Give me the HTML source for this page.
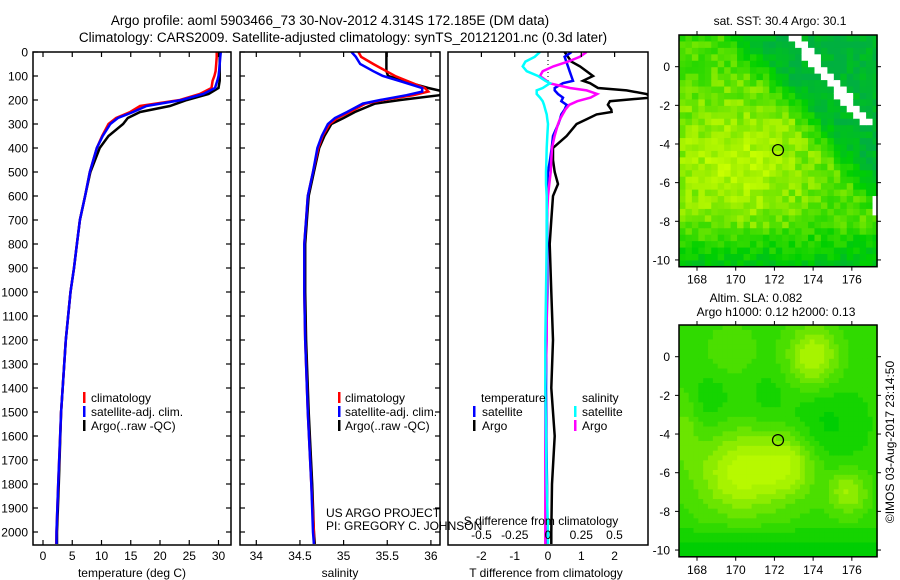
<!DOCTYPE html>
<html><head><meta charset="utf-8"><style>
html,body{margin:0;padding:0;background:#fff;}
svg{display:block;font-family:"Liberation Sans",sans-serif;}
</style></head><body>
<svg id="fig" width="900" height="580" viewBox="0 0 900 580" xmlns="http://www.w3.org/2000/svg">
<text x="330" y="25" font-size="13.5" text-anchor="middle">Argo profile: aoml 5903466_73 30-Nov-2012 4.314S 172.185E (DM data)</text>
<text x="343" y="42" font-size="13.5" text-anchor="middle">Climatology: CARS2009. Satellite-adjusted climatology: synTS_20121201.nc (0.3d later)</text>
<g id="p1"></g>
<g id="p2"></g>
<g id="p3"></g>
<g id="m1"></g>
<g id="m2"></g>
<text x="780" y="25" font-size="12" text-anchor="middle">sat. SST: 30.4  Argo: 30.1</text>
<text x="756" y="302" font-size="12" text-anchor="middle">Altim. SLA: 0.082</text>
<text x="776" y="316" font-size="12" text-anchor="middle">Argo h1000: 0.12 h2000: 0.13</text>
<text transform="translate(894,442) rotate(-90)" font-size="12" text-anchor="middle">©IMOS 03-Aug-2017 23:14:50</text>
<text x="326" y="517" font-size="12">US ARGO PROJECT</text>
<text x="326" y="530" font-size="12">PI: GREGORY C. JOHNSON</text>
</svg>
<script>
// ---- data ----
const depthTS = [0,20,50,80,100,120,150,175,200,225,250,275,300,350,400,500,600,700,800,900,1000,1200,1500,1800,2000,2050];
const tempClim = [29.7,29.7,29.6,29.5,29.3,29.0,28.8,26.8,23.4,16.6,14.9,12.5,11.2,10.1,9.2,8.0,7.2,6.3,5.8,5.3,4.7,3.9,3.1,2.6,2.3,2.25];
const tempSat = [30.4,30.3,30.2,30.1,30.0,29.8,29.4,27.4,23.7,17.7,15.4,12.8,11.5,10.2,9.2,8.0,7.2,6.3,5.8,5.3,4.7,3.9,3.1,2.6,2.3,2.3];
const tempArgo = [30.2,30.2,30.2,30.2,30.2,30.2,30.0,28.3,24.6,21.7,16.6,14.5,13.7,11.2,9.7,8.1,7.2,6.3,5.8,5.3,4.7,3.9,3.1,2.7,2.4,2.4];
const depthS = [0,20,50,80,100,125,150,165,180,200,215,250,275,300,350,400,500,600,700,800,1000,1200,1500,1800,2000,2050];
const salClim = [35.17,35.2,35.34,35.49,35.59,35.76,35.93,35.97,35.8,35.45,35.25,35.07,34.93,34.84,34.76,34.71,34.65,34.59,34.57,34.55,34.55,34.56,34.59,34.63,34.66,34.66];
const salSat = [35.09,35.14,35.19,35.34,35.45,35.68,35.9,35.9,35.72,35.42,35.22,35.04,34.9,34.82,34.75,34.70,34.65,34.59,34.57,34.55,34.55,34.56,34.59,34.63,34.65,34.66];
const salArgo = [35.49,35.49,35.49,35.49,35.51,35.72,35.97,36.15,36.1,35.65,35.36,35.13,35.0,34.86,34.78,34.72,34.66,34.6,34.58,34.56,34.56,34.57,34.6,34.64,34.66,34.67];
const depthD = [0,20,40,60,80,100,120,130,150,160,175,190,205,220,240,250,260,280,300,350,400,450,500,550,600,700,800,1000,1200,1400,1600,1800,2000,2050];
const dTSat = [0.71,0.5,0.55,0.6,0.65,0.7,0.75,0.45,0.2,0.2,0.3,0.45,0.4,0.56,0.5,0.45,0.4,0.36,0.31,0.15,0.11,0.06,0,-0.02,-0.02,-0.03,-0.02,-0.02,-0.05,-0.06,-0.05,-0.03,-0.02,-0.02];
const dTArgo = [0.5,0.6,0.7,0.96,1.16,1.35,1.05,1.26,1.5,2.36,2.96,3.1,1.86,1.8,1.9,1.91,1.46,1.16,0.86,0.56,0.15,0.15,0.2,0.3,0.15,0.1,0.05,0.1,0.15,0.1,0.2,0.12,0.1,0.1];
const dSArgo = [0.29,0.24,0.15,0.04,-0.04,-0.06,-0.01,0.01,0.165,0.29,0.37,0.32,0.22,0.16,0.13,0.12,0.11,0.09,0.075,0.05,0.03,0.025,0.02,0.01,0,-0.01,-0.01,-0.01,-0.01,-0.02,-0.02,-0.02,-0.02,-0.02];
const dSSat = [-0.06,-0.1,-0.17,-0.19,-0.16,-0.075,-0.02,0.015,-0.04,-0.085,-0.085,-0.06,-0.04,-0.03,-0.02,-0.015,-0.01,-0.005,0,-0.005,-0.01,-0.012,-0.015,-0.015,-0.01,-0.01,-0.01,-0.015,-0.02,-0.02,-0.015,-0.01,0,0];
const depthTicks = [0,100,200,300,400,500,600,700,800,900,1000,1100,1200,1300,1400,1500,1600,1700,1800,1900,2000];
const tempTicks = [0,5,10,15,20,25,30];
const salTicks = [34,34.5,35,35.5,36];
const dTTicks = [-2,-1,0,1,2];
const dSTicks = [-0.5,-0.25,0,0.25,0.5];
const dSTickLabels = ["-0.5","-0.25","0","0.25","0.5"];
const lonTicks = [168,170,172,174,176];
const latTicks = [0,-2,-4,-6,-8,-10];
const floatLon = 172.185, floatLat = -4.314;

// ---- helpers ----
const NS="http://www.w3.org/2000/svg";
function mk(parent,tag,attrs){const e=document.createElementNS(NS,tag);for(const k in attrs)e.setAttribute(k,attrs[k]);parent.appendChild(e);return e;}
const yD = d => 52 + d*0.24;
const PTOP=52-0.0, PBOT=545;
const xT = t => 43 + t*5.85;
const xS = s => 256.3 + (s-34)*87.3;
const xDT = v => 548 + v*33.3;
const xDS = v => 548 + v*133;

function frame(g,x0,x1,y0,y1,name){
  const r=mk(g,'rect',{x:x0,y:y0,width:x1-x0,height:y1-y0,fill:'none',stroke:'#000','stroke-width':1.5});
  
  
}
function clipFor(id,x0,x1,y0,y1){
  const c=mk(document.getElementById('fig'),'clipPath',{id:id});
  mk(c,'rect',{x:x0,y:y0,width:x1-x0,height:y1-y0});
}
function line(g,xs,ds,xf,color,name,clip,w){
  const pts=xs.map((v,i)=>xf(v).toFixed(1)+','+yD(ds[i]).toFixed(1)).join(' ');
  const p=mk(g,'polyline',{points:pts,fill:'none',stroke:color,'stroke-width':w||2.5,'clip-path':'url(#'+clip+')'});
  
  
}
function depthAxis(g,x0,x1,labels){
  depthTicks.forEach(d=>{
    const y=yD(d);
    mk(g,'line',{x1:x0,y1:y,x2:x0+5,y2:y,stroke:'#000','stroke-width':1.2});
    mk(g,'line',{x1:x1,y1:y,x2:x1-5,y2:y,stroke:'#000','stroke-width':1.2});
    if(labels){const t=mk(g,'text',{x:x0-5,y:y+4.5,'font-size':12,'text-anchor':'end'});t.textContent=d;
      
      }
  });
}
function xAxis(g,ticks,xf,labels,ylab){
  ticks.forEach((v,i)=>{
    const x=xf(v);
    mk(g,'line',{x1:x,y1:PTOP,x2:x,y2:PTOP+5,stroke:'#000','stroke-width':1.2});
    mk(g,'line',{x1:x,y1:PBOT,x2:x,y2:PBOT-5,stroke:'#000','stroke-width':1.2});
    const t=mk(g,'text',{x:x,y:ylab,'font-size':12,'text-anchor':'middle'});t.textContent=labels?labels[i]:v;
    
    
  });
}
function label(g,x,y,txt,name,anchor){
  const t=mk(g,'text',{x:x,y:y,'font-size':12,'text-anchor':anchor||'start'});t.textContent=txt;
  
  
}
function legendBar(g,x,y,color){
  const r=mk(g,'rect',{x:x,y:y-10,width:2.5,height:11,fill:color});
  
  
}

// ---- panel 1 ----
const g1=document.getElementById('p1');
clipFor('c1',33,231,PTOP,PBOT);
line(g1,tempArgo,depthTS,xT,'#000','temp-argo-line','c1');
line(g1,tempClim,depthTS,xT,'#f00','temp-clim-line','c1');
line(g1,tempSat,depthTS,xT,'#00f','temp-sat-line','c1');
frame(g1,33,231,PTOP,PBOT,'temperature-frame');
depthAxis(g1,33,231,true);
xAxis(g1,tempTicks,xT,null,560);
label(g1,132,577,'temperature (deg C)','temperature-axis-title','middle');
legendBar(g1,83,402,'#f00');label(g1,91,402,'climatology','legend-climatology');
legendBar(g1,83,416,'#00f');label(g1,91,416,'satellite-adj. clim.','legend-satellite');
legendBar(g1,83,430,'#000');label(g1,91,430,'Argo(..raw -QC)','legend-argo');

// ---- panel 2 ----
const g2=document.getElementById('p2');
clipFor('c2',240,440,PTOP,PBOT);
line(g2,salArgo,depthS,xS,'#000','sal-argo-line','c2');
line(g2,salClim,depthS,xS,'#f00','sal-clim-line','c2');
line(g2,salSat,depthS,xS,'#00f','sal-sat-line','c2');
frame(g2,240,440,PTOP,PBOT,'salinity-frame');
depthAxis(g2,240,440,false);
xAxis(g2,salTicks,xS,null,560);
label(g2,340,577,'salinity','salinity-axis-title','middle');
legendBar(g2,338,402,'#f00');label(g2,345,402,'climatology','legend-climatology');
legendBar(g2,338,416,'#00f');label(g2,345,416,'satellite-adj. clim.','legend-satellite');
legendBar(g2,338,430,'#000');label(g2,345,430,'Argo(..raw -QC)','legend-argo');

// ---- panel 3 ----
const g3=document.getElementById('p3');
clipFor('c3',448,648,PTOP,PBOT);
mk(g3,'line',{x1:548,y1:PTOP,x2:548,y2:85,stroke:'#000','stroke-width':1,'stroke-dasharray':'1,3'});
line(g3,dTArgo,depthD,xDT,'#000','dT-argo-line','c3');
line(g3,dTSat,depthD,xDT,'#00f','dT-sat-line','c3');
line(g3,dSArgo,depthD,xDS,'#f0f','dS-argo-line','c3');
line(g3,dSSat,depthD,xDS,'#0ff','dS-sat-line','c3');
frame(g3,448,648,PTOP,PBOT,'difference-frame');
dTTicks.forEach(v=>{const x=xDT(v);mk(g3,'line',{x1:x,y1:PTOP,x2:x,y2:PTOP+5,stroke:'#000','stroke-width':1.2});});
dTTicks.forEach(v=>{const t=mk(g3,'text',{x:xDT(v),y:560,'font-size':12,'text-anchor':'middle'});t.textContent=v;
  
  });
dSTicks.forEach((v,i)=>{const t=mk(g3,'text',{x:xDS(v),y:539,'font-size':12,'text-anchor':'middle'});t.textContent=dSTickLabels[i];
  
  });
label(g3,541,525,'S difference from climatology','dS-axis-title','middle');
label(g3,546,577,'T difference from climatology','dT-axis-title','middle');
label(g3,481,402,'temperature','legend-temperature-header');
legendBar(g3,473,416,'#00f');label(g3,482,416,'satellite','legend-t-satellite');
legendBar(g3,473,430,'#000');label(g3,482,430,'Argo','legend-t-argo');
label(g3,582,402,'salinity','legend-salinity-header');
legendBar(g3,574,416,'#0ff');label(g3,582,416,'satellite','legend-s-satellite');
legendBar(g3,574,430,'#f0f');label(g3,582,430,'Argo','legend-s-argo');

// ---- maps ----
const stops=[[0,[0,176,64]],[0.35,[0,208,0]],[0.6,[80,224,0]],[0.8,[160,240,0]],[1,[200,255,0]]];
function cmap(v){v=Math.max(0,Math.min(1,v));for(let i=1;i<stops.length;i++){if(v<=stops[i][0]){const a=stops[i-1],b=stops[i],f=(v-a[0])/(b[0]-a[0]);return 'rgb('+a[1].map((c,k)=>Math.round(c+(b[1][k]-c)*f)).join(',')+')';}}return 'rgb(200,255,0)';}
function gauss(lon,lat,c){const dx=(lon-c[0])/c[2],dy=(lat-c[1])/c[3];return c[4]*Math.exp(-(dx*dx+dy*dy)/2);}
function hash(i,j){let h=(i*374761393+j*668265263)>>>0;h=((h^(h>>>13))*1274126177)>>>0;return ((h^(h>>>16))>>>0)/4294967295;}
const LON0=167.07, LON1=177.3, LAT0=1.64, LAT1=-10.35;
function buildMap(gid,y0,y1,cell,field,white){
  const g=document.getElementById(gid);
  const x0=679,x1=877;
  const px=(x1-x0)/(LON1-LON0), py=(y1-y0)/(LAT0-LAT1);
  const xL=lon=>x0+(lon-LON0)*px, yL=lat=>y0+(LAT0-lat)*py;
  let i=0;
  for(let lon=LON0;lon<LON1;lon+=cell,i++){let j=0;
    for(let lat=LAT0;lat>LAT1;lat-=cell,j++){
      const cl=lon+cell/2, ct=lat-cell/2;
      let col=(white&&white(cl,ct))?'#fff':cmap(field(cl,ct,i,j));
      mk(g,'rect',{x:xL(lon).toFixed(2),y:yL(lat).toFixed(2),width:(cell*px+0.6).toFixed(2),height:(cell*py+0.6).toFixed(2),fill:col});
    }}
  const c=mk(g,'circle',{cx:xL(floatLon),cy:yL(floatLat),r:5.5,fill:'none',stroke:'#000','stroke-width':1.2});
  
  
  // cover overflow
  mk(g,'rect',{x:x1+0.75,y:y0-2,width:20,height:y1-y0+4,fill:'#fff'});
  mk(g,'rect',{x:x0-2,y:y1+0.75,width:x1-x0+4,height:10,fill:'#fff'});
  frame(g,x0,x1,y0,y1,gid+'-frame');
  lonTicks.forEach(v=>{const x=xL(v);
    mk(g,'line',{x1:x,y1:y0,x2:x,y2:y0-4,stroke:'#000'});mk(g,'line',{x1:x,y1:y1,x2:x,y2:y1+4,stroke:'#000'});
    const t=mk(g,'text',{x:x,y:y1+17,'font-size':12,'text-anchor':'middle'});t.textContent=v;
    
    });
  latTicks.forEach(v=>{const y=yL(v);
    mk(g,'line',{x1:x0,y1:y,x2:x0-4,y2:y,stroke:'#000'});mk(g,'line',{x1:x1,y1:y,x2:x1+4,y2:y,stroke:'#000'});
    const t=mk(g,'text',{x:x0-9,y:y+4.5,'font-size':12,'text-anchor':'end'});t.textContent=v;
    
    });
}
buildMap('m1',35,266.7,1/3,(lon,lat,i,j)=>{
  let v=0.55+gauss(lon,lat,[170,-5,3,2.5,0.35]);
  const s=(lon-173)*0.8+(lat+3)*0.7; if(s>0)v-=Math.min(s*0.3,0.5);
  if(lat<-8)v-=0.15*(-8-lat);
  return v+(hash(i,j)-0.5)*0.25;
},(lon,lat)=>{const ln=1.5-1.23*(lon-173.3);return (lon>172.9&&lon<177.3&&lat<ln+0.2&&lat>ln-0.7&&lat>-2.9)||(lon>177&&lat<-6.8&&lat>-7.8);});
buildMap('m2',325,556.8,0.25,(lon,lat)=>{
  let v=0.5;
  [[170.3,-6,1.6,1.5,0.42],[172.8,-5.5,1.0,1.2,0.3],[174,0,0.9,1.1,0.38],[175.8,-7,0.7,0.8,0.3],[167.4,-3.5,0.5,1.5,0.15],[169.8,0.3,1,1,0.1],[174.6,-3.5,1.5,1.4,-0.15],[168.6,-2.2,0.9,1,-0.1],[171.6,-2,0.6,1,-0.08]].forEach(c=>v+=gauss(lon,lat,c));
  if(lat<-8.5)v-=0.12*(-8.5-lat);
  return Math.round(v*12)/12;
},null);
</script>
</body></html>
